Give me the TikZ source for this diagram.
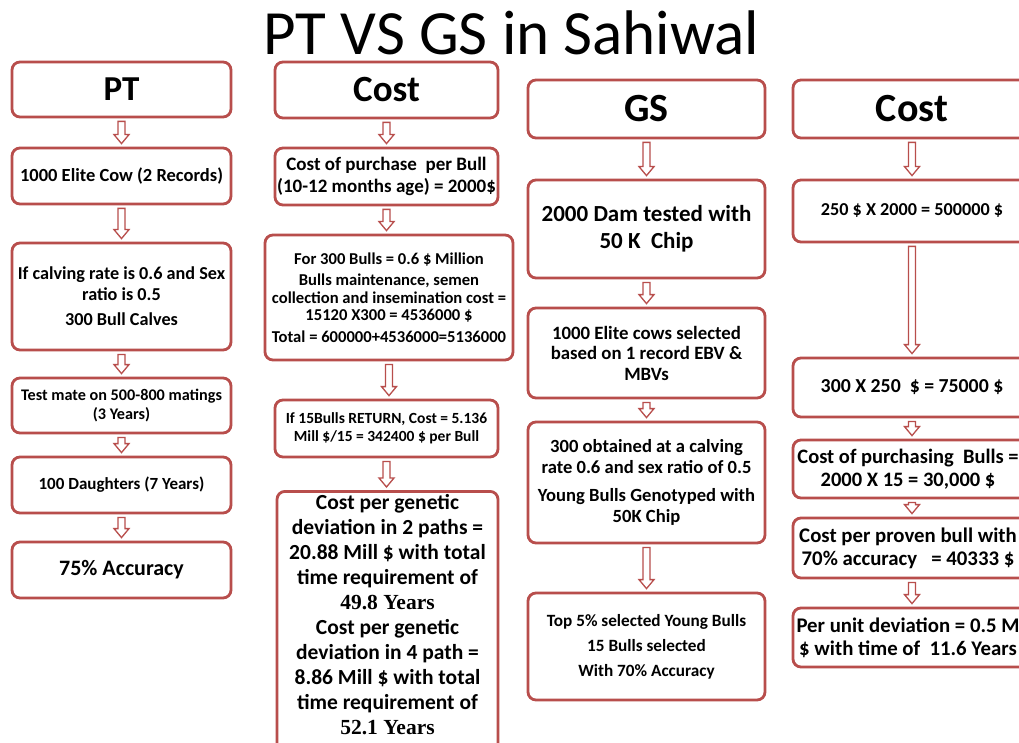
\documentclass[tikz,border=0pt]{standalone}
\usepackage{fontspec}
\setmainfont{Carlito}
\newfontfamily\tnr{Liberation Serif}
\usetikzlibrary{calc}
\definecolor{boxred}{RGB}{184,78,76}
\tikzset{
  box/.style={draw=boxred, line width=2.8pt, rounded corners=8pt, fill=white, align=center, inner sep=1pt},
  arr/.style={draw=boxred, line width=1.3pt, fill=white, line join=miter},
}
\newcommand\fs[2]{\fontsize{#1}{#2}\selectfont\bfseries}
\newcommand\rs{\hspace*{8pt}}
\newcommand\blockarrow[2]{%
  \path[arr] let \p1=($(#1.south)+(0,3)$), \p2=($(#2.north)+(0,-3)$) in
   (\x1-3.5,\y1) -- (\x1+3.5,\y1) -- (\x1+3.5,\y2+9) -- (\x1+7.5,\y2+9) -- (\x1,\y2) -- (\x1-7.5,\y2+9) -- (\x1-3.5,\y2+9) -- cycle;}
\begin{document}
\begin{tikzpicture}[x=1pt,y=-1pt]
\useasboundingbox (0,0) rectangle (1019,743);
\clip (0,0) rectangle (1019,743);
\fill[white] (0,0) rectangle (1019,743);
\node[font=\fontsize{63}{70}\selectfont, anchor=base] (title) at (511.5,55) {PT VS GS in Sahiwal};

% column 1: PT
\node[box, minimum width=219, minimum height=55, font=\fs{35}{38}] (p1) at (121.5,89.5) {PT};
\node[box, minimum width=219, minimum height=56, font=\fs{18.5}{21}] (p2) at (121.5,176) {1000 Elite Cow (2 Records)};
\node[box, minimum width=219, minimum height=107, font=\fs{18.2}{20.5}] (p3) at (121.5,296.5) {If calving rate is 0.6 and Sex\\ratio is 0.5\\[5pt]300 Bull Calves};
\node[box, minimum width=219, minimum height=55, font=\fs{16.2}{18.5}] (p4) at (121.5,405.5) {Test mate on 500-800 matings\\(3 Years)};
\node[box, minimum width=219, minimum height=56, font=\fs{17}{20}] (p5) at (121.5,485) {100 Daughters (7 Years)};
\node[box, minimum width=219, minimum height=56, font=\fs{22}{25}] (p6) at (121.5,570) {75\% Accuracy};

% column 2: Cost
\node[box, minimum width=223, minimum height=56, font=\fs{37}{40}] (c1) at (386.5,90) {Cost};
\node[box, minimum width=223, minimum height=57, font=\fs{19}{21.5}] (c2) at (386.5,176.5) {Cost of purchase\ \ per Bull\\(10-12 months age) = 2000\$};
\node[box, minimum width=248, minimum height=125, font=\fs{16.6}{17.5}] (c3) at (389,297.5) {For 300 Bulls = 0.6 \$ Million\\[4pt]Bulls maintenance, semen\\collection and insemination cost =\\15120 X300 = 4536000 \$\\[4pt]Total = 600000+4536000=5136000};
\node[box, minimum width=223, minimum height=57, font=\fs{15.5}{18}] (c4) at (386.5,428.5) {If 15Bulls RETURN, Cost = 5.136\\Mill \$/15 = 342400 \$ per Bull};
\node[box, minimum width=221, anchor=north, inner ysep=3pt, font=\fs{21.5}{25}] (c5) at (387.5,490) {Cost per genetic\\deviation in 2 paths =\\20.88 Mill \$ with total\\time requirement of\\{\tnr\bfseries 49.8 Years}\\Cost per genetic\\deviation in 4 path =\\8.86 Mill \$ with total\\time requirement of\\{\tnr\bfseries 52.1 Years}\\[14pt]};

% column 3: GS
\node[box, minimum width=237, minimum height=58, font=\fs{40}{44}] (g1) at (646.5,109) {GS};
\node[box, minimum width=237, minimum height=98, font=\fs{23}{27}] (g2) at (646.5,229) {2000 Dam tested with\\50 K\ \ Chip};
\node[box, minimum width=237, minimum height=90, font=\fs{18.8}{20.5}] (g3) at (646.5,353) {1000 Elite cows selected\\based on 1 record EBV \&\\MBVs};
\node[box, minimum width=237, minimum height=121, font=\fs{18.6}{21.5}] (g4) at (646.5,482.5) {300 obtained at a calving\\rate 0.6 and sex ratio of 0.5\\[6pt]Young Bulls Genotyped with\\50K Chip};
\node[box, minimum width=237, minimum height=107, font=\fs{17.2}{19}] (g5) at (646.5,646.5) {Top 5\% selected Young Bulls\\[6pt]15 Bulls selected\\[6pt]With 70\% Accuracy};

% column 4: Cost
\node[box, minimum width=238, minimum height=58, font=\fs{40}{44}] (d1) at (912,109) {Cost};
\node[box, minimum width=238, minimum height=62, font=\fs{18.2}{20}] (d2) at (912,211) {250 \$ X 2000 = 500000 \$};
\node[box, minimum width=238, minimum height=59, font=\fs{19.8}{22}] (d3) at (912,387.5) {300 X 250\ \ \$ = 75000 \$};
\node[box, minimum width=238, minimum height=58, font=\fs{20.5}{23}] (d4) at (912,469) {Cost of purchasing\ \ Bulls =\rs\\2000 X 15 = 30,000 \$\rs};
\node[box, minimum width=238, minimum height=60, font=\fs{20.8}{23}] (d5) at (912,548) {Cost per proven bull with\rs\\70\% accuracy\ \ \ = 40333 \$\rs};
\node[box, minimum width=238, minimum height=59, font=\fs{20.8}{23}] (d6) at (912,637.5) {Per unit deviation = 0.5 M\rs\\\$ with time of\ \ 11.6 Years\rs};

% arrows
\blockarrow{p1}{p2}
\blockarrow{p2}{p3}
\blockarrow{p3}{p4}
\blockarrow{p4}{p5}
\blockarrow{p5}{p6}
\blockarrow{c1}{c2}
\blockarrow{c2}{c3}
\blockarrow{c3}{c4}
\blockarrow{c4}{c5}
\blockarrow{g1}{g2}
\blockarrow{g2}{g3}
\blockarrow{g3}{g4}
\blockarrow{g4}{g5}
\blockarrow{d1}{d2}
\blockarrow{d2}{d3}
\blockarrow{d3}{d4}
\blockarrow{d4}{d5}
\blockarrow{d5}{d6}
\end{tikzpicture}
\end{document}
